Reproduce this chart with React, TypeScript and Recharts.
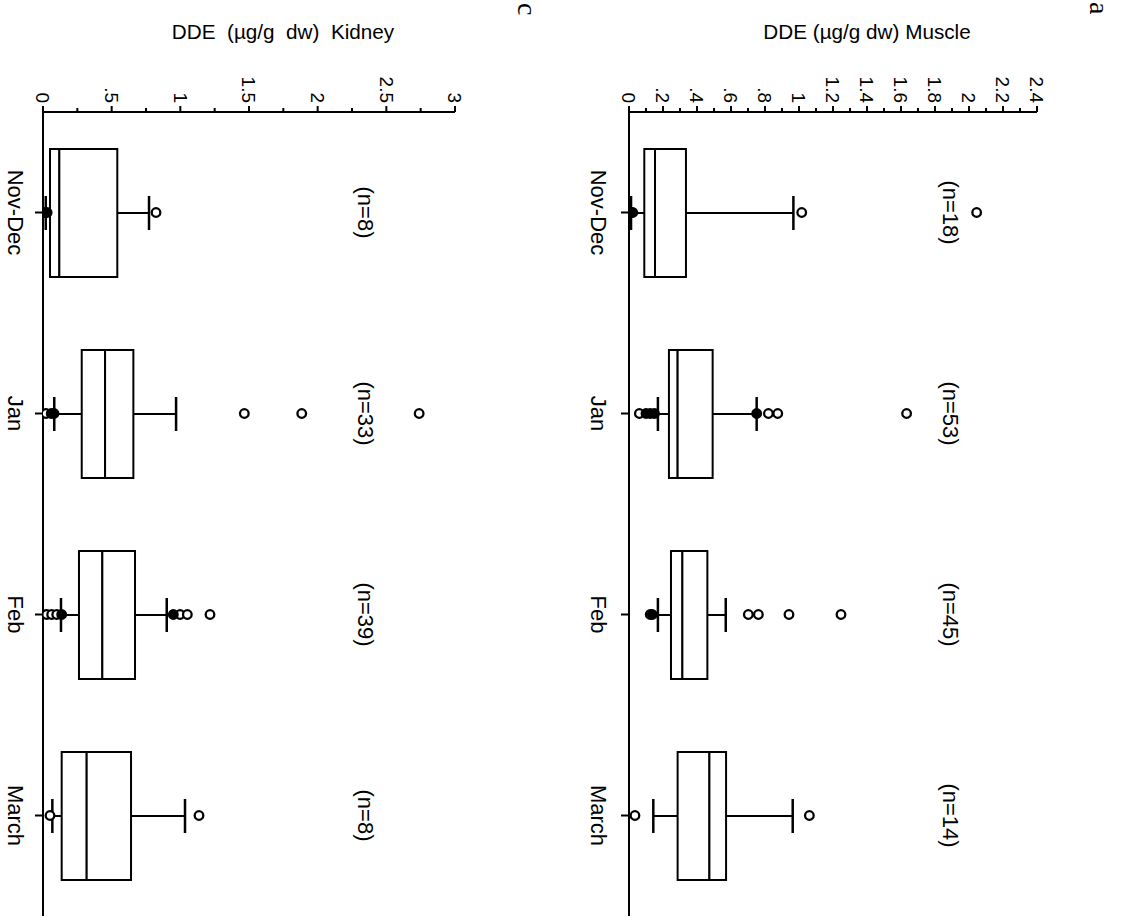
import { ComposedChart, Bar, Scatter, XAxis, YAxis, Label } from 'recharts';

const FONT = "'Liberation Sans', Arial, Helvetica, sans-serif";

const months = ['Nov-Dec', 'Jan', 'Feb', 'March'];

// Muscle (µg/g dw)
const muscleN = [18, 53, 45, 14];
const muscleLow = [0.012, 0.17, 0.17, 0.143];
const muscleQ1 = [0.09, 0.235, 0.247, 0.286];
const muscleMedian = [0.153, 0.286, 0.314, 0.473];
const muscleQ3 = [0.335, 0.492, 0.461, 0.571];
const muscleHigh = [0.967, 0.751, 0.569, 0.963];
const muscleOpen = [
  [1.016, 2.045],
  [0.061, 0.82, 0.875, 1.633],
  [0.125, 0.702, 0.761, 0.941, 1.247],
  [0.035, 1.061],
];
const muscleFilled = [[0.012, 0.022], [0.1, 0.125, 0.15, 0.751], [0.137], []];
const muscleTicks = [0, 0.2, 0.4, 0.6, 0.8, 1, 1.2, 1.4, 1.6, 1.8, 2, 2.2, 2.4];
const muscleMinor = [0.1, 0.3, 0.5, 0.7, 0.9, 1.1, 1.3, 1.5, 1.7, 1.9, 2.1, 2.3];
const muscleNAt = 1.894;

// Kidney (µg/g dw)
const kidneyN = [8, 33, 39, 8];
const kidneyLow = [0.02, 0.082, 0.131, 0.068];
const kidneyQ1 = [0.051, 0.282, 0.262, 0.136];
const kidneyMedian = [0.119, 0.452, 0.432, 0.318];
const kidneyQ3 = [0.541, 0.658, 0.67, 0.641];
const kidneyHigh = [0.772, 0.969, 0.901, 1.034];
const kidneyOpen = [
  [0.823],
  [0.022, 1.466, 1.884, 2.739],
  [0.027, 0.063, 0.1, 0.998, 1.051, 1.216],
  [0.051, 1.136],
];
const kidneyFilled = [[0.015, 0.03], [0.06, 0.08], [0.136, 0.949], []];
const kidneyTicks = [0, 0.5, 1, 1.5, 2, 2.5, 3];
const kidneyMinor = [0.25, 0.75, 1.25, 1.75, 2.25, 2.75];
const kidneyNAt = 2.352;

function boxRows(low: number[], q1: number[], med: number[], q3: number[], high: number[]) {
  return months.map((month, i) => ({
    month,
    base: low[i],
    lowerWhisker: q1[i] - low[i],
    lowerBox: med[i] - q1[i],
    upperBox: q3[i] - med[i],
    upperWhisker: high[i] - q3[i],
  }));
}

function dotRows(open: number[][], filled: number[][]) {
  const rows: { month: string; value: number; filled: boolean }[] = [];
  months.forEach((month, i) => {
    open[i].forEach((value) => rows.push({ month, value, filled: false }));
    filled[i].forEach((value) => rows.push({ month, value, filled: true }));
  });
  return rows;
}

function nRows(ns: number[], at: number) {
  return months.map((month, i) => ({ month, at, text: `(n=${ns[i]})` }));
}

const fmt = (v: number) => (v === 0 ? '0' : String(v).replace(/^0\./, '.'));

const Hidden = () => <g />;

const BoxPart = (p: any) => (
  <rect x={p.x} y={p.y} width={p.width} height={p.height} fill="#fff" stroke="#000" strokeWidth={2} />
);

const LowerWhisker = (p: any) => {
  const cx = p.x + p.width / 2;
  const bottom = p.y + p.height;
  return (
    <g stroke="#000" strokeWidth={2}>
      <line x1={cx} x2={cx} y1={p.y} y2={bottom} />
      <line x1={cx - 17} x2={cx + 17} y1={bottom} y2={bottom} strokeWidth={2.5} />
    </g>
  );
};

const UpperWhisker = (p: any) => {
  const cx = p.x + p.width / 2;
  return (
    <g stroke="#000" strokeWidth={2}>
      <line x1={cx} x2={cx} y1={p.y} y2={p.y + p.height} />
      <line x1={cx - 17} x2={cx + 17} y1={p.y} y2={p.y} strokeWidth={2.5} />
    </g>
  );
};

const Dot = (p: any) => (
  <circle cx={p.cx} cy={p.cy} r={4.3} fill={p.payload.filled ? '#000' : '#fff'} stroke="#000" strokeWidth={2.3} />
);

const NLabel = (p: any) => (
  <text x={p.cx} y={p.cy} dy="0.36em" textAnchor="middle" fontSize={22} fontFamily={FONT} fill="#000">
    {p.payload.text}
  </text>
);

function ValueTick(p: any) {
  const major = p.majors.includes(p.payload.value);
  return (
    <g>
      <line x1={p.x - (major ? 6 : 4)} x2={p.x} y1={p.y} y2={p.y} stroke="#000" strokeWidth={2} />
      {major && (
        <text x={p.x - 9} y={p.y} dy="0.36em" textAnchor="end" fontSize={19} fontFamily={FONT} fill="#000">
          {fmt(p.payload.value)}
        </text>
      )}
    </g>
  );
}

interface PanelProps {
  rows: ReturnType<typeof boxRows>;
  dots: ReturnType<typeof dotRows>;
  labels: ReturnType<typeof nRows>;
  yMax: number;
  majors: number[];
  minors: number[];
  title: string;
  top: number;
  axisHeight: number;
  tickMargin: number;
}

function Panel({ rows, dots, labels, yMax, majors, minors, title, top, axisHeight, tickMargin }: PanelProps) {
  const allTicks = [...majors, ...minors].sort((a, b) => a - b);
  return (
    <ComposedChart width={921} height={564} data={rows} margin={{ top, right: 5, bottom: 0, left: 0 }}>
      <XAxis
        dataKey="month"
        type="category"
        allowDuplicatedCategory={false}
        height={axisHeight}
        interval={0}
        tickSize={8}
        tickMargin={tickMargin}
        axisLine={{ stroke: '#000', strokeWidth: 2 }}
        tickLine={{ stroke: '#000', strokeWidth: 2 }}
        tick={{ fill: '#000', fontSize: 22, fontFamily: FONT }}
      />
      <YAxis
        type="number"
        domain={[0, yMax]}
        allowDataOverflow
        ticks={allTicks}
        interval={0}
        width={112}
        tickSize={0}
        tickMargin={0}
        tickLine={false}
        axisLine={{ stroke: '#000', strokeWidth: 2 }}
        tick={(t: any) => <ValueTick {...t} majors={majors} />}
      >
        <Label
          content={(l: any) => {
            const vb = l.viewBox;
            const yc = vb.y + vb.height / 2 - 34;
            return (
              <text
                x={39}
                y={yc}
                transform={`rotate(-90, 39, ${yc})`}
                textAnchor="middle"
                fontSize={20.7}
                fontFamily={FONT}
                fill="#000"
                style={{ whiteSpace: 'pre' }}
              >
                {title}
              </text>
            );
          }}
        />
      </YAxis>
      <Bar dataKey="base" stackId="box" barSize={128} shape={Hidden} isAnimationActive={false} />
      <Bar dataKey="lowerWhisker" stackId="box" barSize={128} shape={LowerWhisker} isAnimationActive={false} />
      <Bar dataKey="lowerBox" stackId="box" barSize={128} shape={BoxPart} isAnimationActive={false} />
      <Bar dataKey="upperBox" stackId="box" barSize={128} shape={BoxPart} isAnimationActive={false} />
      <Bar dataKey="upperWhisker" stackId="box" barSize={128} shape={UpperWhisker} isAnimationActive={false} />
      <Scatter data={dots} dataKey="value" shape={Dot} isAnimationActive={false} />
      <Scatter data={labels} dataKey="at" shape={NLabel} isAnimationActive={false} />
    </ComposedChart>
  );
}

export default function App() {
  return (
    <div style={{ position: 'fixed', left: 0, top: 0, width: 1128, height: 921, overflow: 'hidden', background: '#fff' }}>
      <div
        style={{
          position: 'absolute',
          left: 0,
          top: 0,
          width: 921,
          height: 1128,
          transformOrigin: '0 0',
          transform: 'translate(1128px, 0) rotate(90deg)',
        }}
      >
        <Panel
          rows={boxRows(muscleLow, muscleQ1, muscleMedian, muscleQ3, muscleHigh)}
          dots={dotRows(muscleOpen, muscleFilled)}
          labels={nRows(muscleN, muscleNAt)}
          yMax={2.4}
          majors={muscleTicks}
          minors={muscleMinor}
          title="DDE (µg/g dw) Muscle"
          top={91}
          axisHeight={65}
          tickMargin={14}
        />
        <Panel
          rows={boxRows(kidneyLow, kidneyQ1, kidneyMedian, kidneyQ3, kidneyHigh)}
          dots={dotRows(kidneyOpen, kidneyFilled)}
          labels={nRows(kidneyN, kidneyNAt)}
          yMax={3}
          majors={kidneyTicks}
          minors={kidneyMinor}
          title="DDE  (µg/g  dw)  Kidney"
          top={109}
          axisHeight={43}
          tickMargin={11}
        />
        <svg width={921} height={1128} style={{ position: 'absolute', left: 0, top: 0, pointerEvents: 'none' }}>
          <text x={2} y={38} fontSize={28} fontFamily="'Liberation Serif', 'Times New Roman', serif" fill="#000">
            a
          </text>
          <text x={3} y={610} fontSize={28} fontFamily="'Liberation Serif', 'Times New Roman', serif" fill="#000">
            c
          </text>
        </svg>
      </div>
    </div>
  );
}
